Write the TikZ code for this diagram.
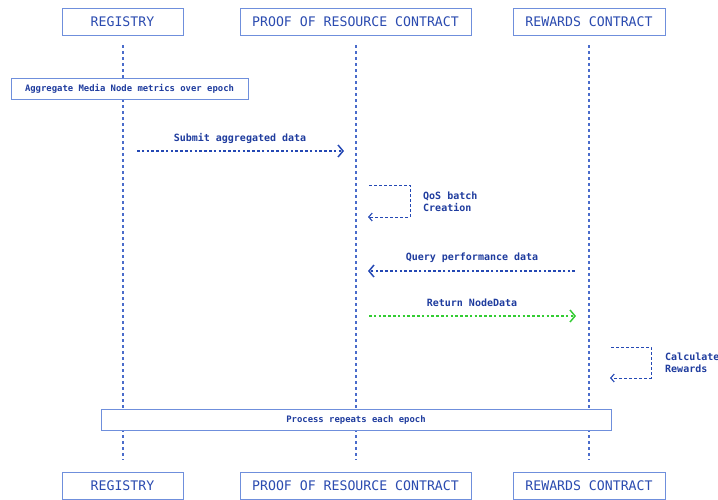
\documentclass[tikz,border=0pt]{standalone}
\usepackage{fontspec}
\setmonofont{DejaVu Sans Mono}
\usetikzlibrary{arrows.meta}
\definecolor{boxline}{HTML}{6F8FDC}
\definecolor{headtxt}{HTML}{2B4BB0}
\definecolor{lbltxt}{HTML}{1F3C9E}
\definecolor{lifeline}{HTML}{4A6CCB}
\definecolor{msgblue}{HTML}{2448B4}
\definecolor{msggreen}{HTML}{33CC33}
\begin{document}
\begin{tikzpicture}[x=1pt,y=-1pt,
  actor/.style={draw=boxline,line width=0.9pt,fill=white,minimum height=27pt,
    inner sep=0pt,font=\ttfamily\fontsize{13.2}{15}\selectfont,text=headtxt},
  notebox/.style={draw=boxline,line width=0.9pt,fill=white,minimum height=21pt,
    inner sep=0pt,font=\ttfamily\bfseries\fontsize{8.9}{10}\selectfont,text=lbltxt},
  lifel/.style={draw=lifeline,line width=1.2pt,dash pattern=on 3pt off 3pt},
  msg/.style={draw=msgblue,line width=1.3pt,dash pattern=on 2.6pt off 2.2pt,
    -{Straight Barb[length=5pt,width=12pt,line width=1.5pt]}},
  selfmsg/.style={draw=msgblue,line width=1pt,dash pattern=on 3pt off 2pt,
    -{Straight Barb[length=3.5pt,width=8pt,line width=1.1pt]}},
  lbl/.style={font=\ttfamily\bfseries\fontsize{10}{12}\selectfont,text=lbltxt,inner sep=0pt},
  lbll/.style={lbl,align=left,anchor=west}]
\useasboundingbox (0,0) rectangle (718,499);

% lifelines (drawn first, boxes cover them)
\coordinate (regTop) at (123,45);   \coordinate (regBot) at (123,460);
\coordinate (porTop) at (356,45);   \coordinate (porBot) at (356,460);
\coordinate (rewTop) at (589,45);   \coordinate (rewBot) at (589,460);
\draw[lifel] (regTop) -- (regBot);
\draw[lifel] (porTop) -- (porBot);
\draw[lifel] (rewTop) -- (rewBot);

% participants, top and bottom
\node[actor,minimum width=121pt] (regA) at (122.5,21.5) {REGISTRY};
\node[actor,minimum width=231pt] (porA) at (355.5,21.5) {PROOF OF RESOURCE CONTRACT};
\node[actor,minimum width=152pt] (rewA) at (589,21.5) {REWARDS CONTRACT};
\node[actor,minimum width=121pt] (regB) at (122.5,486) {REGISTRY};
\node[actor,minimum width=231pt] (porB) at (355.5,486) {PROOF OF RESOURCE CONTRACT};
\node[actor,minimum width=152pt] (rewB) at (589,486) {REWARDS CONTRACT};

% notes
\node[notebox,minimum width=237pt] (aggr) at (129.5,89) {Aggregate Media Node metrics over epoch};
\node[notebox,minimum width=510pt] (loopn) at (356,420) {Process repeats each epoch};

% Submit aggregated data
\coordinate (s1) at (137,151); \coordinate (s2) at (344,151);
\draw[msg] (s1) -- (s2);
\node[lbl] (s1l) at (240,138) {Submit aggregated data};

% QoS batch creation (self message)
\coordinate (q1) at (369,185); \coordinate (q2) at (410,185);
\coordinate (q3) at (410,217); \coordinate (q4) at (368,217);
\draw[selfmsg] (q1) -- (q2) -- (q3) -- (q4);
\node[lbll] (ql) at (423,201.5) {QoS batch\\Creation};

% Query performance data
\coordinate (p1) at (575,271); \coordinate (p2) at (368,271);
\draw[msg] (p1) -- (p2);
\node[lbl] (pl) at (472,258) {Query performance data};

% Return NodeData
\coordinate (r1) at (369,316); \coordinate (r2) at (576,316);
\draw[msg,draw=msggreen] (r1) -- (r2);
\node[lbl] (rl) at (472,303) {Return NodeData};

% Calculate rewards (self message)
\coordinate (c1) at (611,347); \coordinate (c2) at (651,347);
\coordinate (c3) at (651,378); \coordinate (c4) at (610,378);
\draw[selfmsg] (c1) -- (c2) -- (c3) -- (c4);
\node[lbll] (cl) at (665,363) {Calculate\\Rewards};
\end{tikzpicture}
\end{document}
